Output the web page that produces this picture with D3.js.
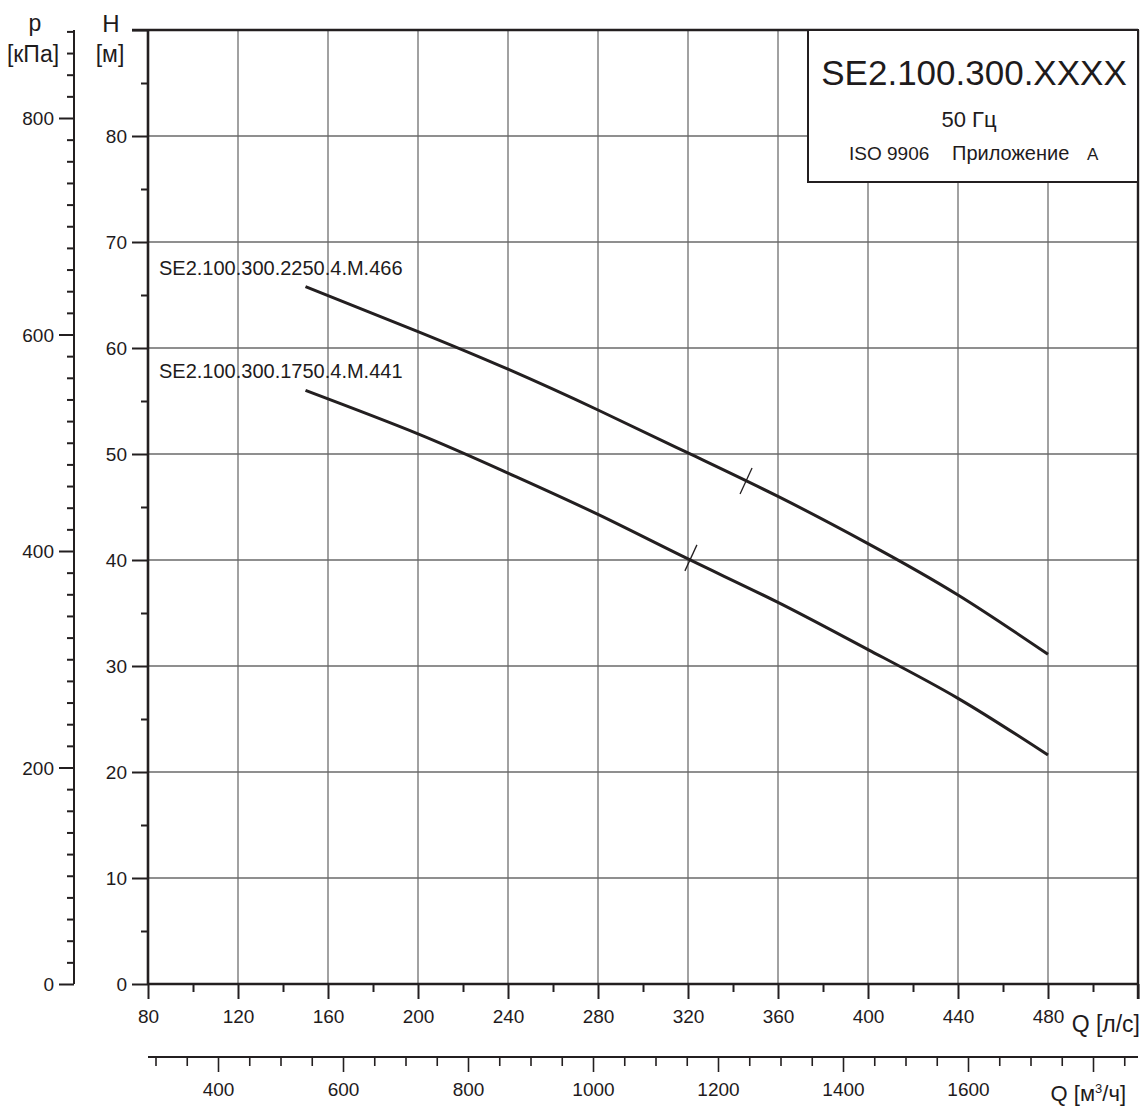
<!DOCTYPE html>
<html>
<head>
<meta charset="utf-8">
<script src="https://cdn.jsdelivr.net/npm/d3@7"></script>
<style>
  html, body { margin: 0; padding: 0; background: #fff; }
  text { font-family: "Liberation Sans", Arial, Helvetica, sans-serif; fill: #1e1b1c; }
</style>
</head>
<body>
<svg id="chart" width="1144" height="1106"></svg>
<script>
// ---- data ----
const flowLs = [150, 200, 240, 280, 320, 360, 400, 440, 480];           // Q [л/с]
const head2250 = [65.8, 61.55, 58.0, 54.15, 50.1, 46.0, 41.55, 36.7, 31.1]; // H [м]
const head1750 = [56.0, 51.9, 48.2, 44.3, 40.1, 36.0, 31.55, 26.95, 21.6];  // H [м]
const seriesNames = ["SE2.100.300.2250.4.M.466", "SE2.100.300.1750.4.M.441"];
const bepFlow = [345.8, 321.3];
const bepHead = [47.45, 40.2];
const flowTicksLs = [80, 120, 160, 200, 240, 280, 320, 360, 400, 440, 480];
const flowTicksM3h = [400, 600, 800, 1000, 1200, 1400, 1600];
const headTicks = [0, 10, 20, 30, 40, 50, 60, 70, 80];
const pressureTicks = [0, 200, 400, 600, 800];
const titleLines = ["SE2.100.300.XXXX", "50 Гц", "ISO 9906", "Приложение", "A"];

// ---- scales ----
const svg = d3.select("#chart");
const x = d3.scaleLinear().domain([80, 520]).range([148, 1138]);
const y = d3.scaleLinear().domain([0, 90]).range([984, 30]);
const p = d3.scaleLinear().domain([0, 800]).range([984, 118]);
const pTop = p.invert(30);
const qm = d3.scaleLinear().domain([80 * 3.6, 520 * 3.6]).range([148, 1138]);

const ink = "#231f20";
const fam = "Liberation Sans, Arial, sans-serif";

// ---- grid ----
const grid = svg.append("g");
grid.selectAll(".vg").data(d3.range(120, 520, 40)).join("line")
  .attr("x1", d => x(d)).attr("x2", d => x(d))
  .attr("y1", y(0)).attr("y2", y(90))
  .attr("stroke", "#8a8a8a").attr("stroke-width", 1.6);
grid.selectAll(".hg").data(d3.range(10, 90, 10)).join("line")
  .attr("x1", x(80)).attr("x2", x(520))
  .attr("y1", d => y(d)).attr("y2", d => y(d))
  .attr("stroke", "#6a6a6a").attr("stroke-width", 1.3);

// ---- H axis ----
const hAxis = svg.append("g").attr("transform", `translate(${x(80)},0)`)
  .call(d3.axisLeft(y).tickValues(headTicks.concat([90])).tickSize(16)
        .tickFormat(d => d === 90 ? "" : d).tickPadding(5));
hAxis.append("g").call(d3.axisLeft(y).tickValues(d3.range(5, 90, 10)).tickSize(7).tickFormat(""));
hAxis.selectAll(".domain").remove();
hAxis.selectAll("line").attr("stroke", ink).attr("stroke-width", 2);
hAxis.selectAll("text").attr("font-size", 19).attr("dy", "0.36em")
  .style("font-family", fam).attr("fill", "#1e1b1c");
svg.append("line").attr("x1", x(80)).attr("x2", x(80)).attr("y1", y(90)).attr("y2", y(0))
  .attr("stroke", ink).attr("stroke-width", 2.6);
svg.append("text").attr("x", 111).attr("y", 32).attr("text-anchor", "middle").attr("font-size", 24).text("H");
svg.append("text").attr("x", 110).attr("y", 62).attr("text-anchor", "middle").attr("font-size", 23).text("[м]");

// ---- p axis ----
const pAxis = svg.append("g").attr("transform", "translate(74,0)")
  .call(d3.axisLeft(p).tickValues(pressureTicks).tickSize(15).tickPadding(5));
pAxis.append("g").call(d3.axisLeft(p).tickValues(d3.range(20, pTop, 20).filter(v => v % 200 !== 0)).tickSize(7).tickFormat(""));
pAxis.selectAll(".domain").remove();
pAxis.selectAll("line").attr("stroke", ink).attr("stroke-width", 2);
pAxis.selectAll("text").attr("font-size", 19).attr("dy", "0.36em")
  .style("font-family", fam).attr("fill", "#1e1b1c");
svg.append("line").attr("x1", 74).attr("x2", 74).attr("y1", p(pTop)).attr("y2", p(0))
  .attr("stroke", ink).attr("stroke-width", 2);
svg.append("text").attr("x", 35).attr("y", 31).attr("text-anchor", "middle").attr("font-size", 23).text("p");
svg.append("text").attr("x", 33).attr("y", 62).attr("text-anchor", "middle").attr("font-size", 23).text("[кПа]");

// ---- Q [л/с] axis ----
const xAxis = svg.append("g").attr("transform", `translate(0,${y(0)})`)
  .call(d3.axisBottom(x).tickValues(flowTicksLs.concat([520])).tickSize(15).tickPadding(11)
        .tickFormat(d => d === 520 ? "" : d));
xAxis.append("g").call(d3.axisBottom(x).tickValues(d3.range(100, 520, 40)).tickSize(8).tickFormat(""));
xAxis.selectAll(".domain").remove();
xAxis.selectAll("line").attr("stroke", ink).attr("stroke-width", 2);
xAxis.selectAll("text").attr("font-size", 19)
  .style("font-family", fam).attr("fill", "#1e1b1c");
svg.append("line").attr("x1", x(80)).attr("x2", x(520)).attr("y1", y(0)).attr("y2", y(0))
  .attr("stroke", ink).attr("stroke-width", 2.6);
svg.append("text").attr("x", 1140).attr("y", 1032).attr("text-anchor", "end").attr("font-size", 23).text("Q [л/с]");

// ---- Q [м³/ч] axis ----
const qAxis = svg.append("g").attr("transform", "translate(0,1057)")
  .call(d3.axisBottom(qm).tickValues(flowTicksM3h.concat([1800])).tickSize(15).tickPadding(11)
        .tickFormat(d => d === 1800 ? "" : d));
qAxis.append("g").call(d3.axisBottom(qm).tickValues(d3.range(300, 1872, 50).filter(v => v % 200 !== 0)).tickSize(9).tickFormat(""));
qAxis.selectAll(".domain").remove();
qAxis.selectAll("line").attr("stroke", ink).attr("stroke-width", 1.6);
qAxis.selectAll("text").attr("font-size", 19)
  .style("font-family", fam).attr("fill", "#1e1b1c");
svg.append("line").attr("x1", qm(288)).attr("x2", qm(1872)).attr("y1", 1057).attr("y2", 1057)
  .attr("stroke", ink).attr("stroke-width", 2);
const qlab = svg.append("text").attr("x", 1126).attr("y", 1101).attr("text-anchor", "end").attr("font-size", 22);
qlab.append("tspan").text("Q [м");
qlab.append("tspan").attr("font-size", 13).attr("dy", -8).text("3");
qlab.append("tspan").attr("dy", 8).text("/ч]");

// ---- border top/right ----
svg.append("line").attr("x1", x(80) - 16).attr("x2", x(520)).attr("y1", y(90)).attr("y2", y(90))
  .attr("stroke", ink).attr("stroke-width", 2.4);
svg.append("line").attr("x1", x(520)).attr("x2", x(520)).attr("y1", y(90)).attr("y2", y(0) + 15)
  .attr("stroke", ink).attr("stroke-width", 2.4);

// ---- curves ----
const line = d3.line().x(d => x(d[0])).y(d => y(d[1])).curve(d3.curveNatural);
[head2250, head1750].forEach((hs, i) => {
  svg.append("path").datum(flowLs.map((q, j) => [q, hs[j]]))
    .attr("d", line).attr("fill", "none").attr("stroke", ink).attr("stroke-width", 3);
  svg.append("line")
    .attr("x1", x(bepFlow[i]) - 6).attr("y1", y(bepHead[i]) + 13)
    .attr("x2", x(bepFlow[i]) + 6).attr("y2", y(bepHead[i]) - 13)
    .attr("stroke", ink).attr("stroke-width", 1.3);
  svg.append("text").attr("x", 159).attr("y", y(hs[0]) - 12).attr("font-size", 20).text(seriesNames[i]);
});

// ---- title box ----
svg.append("rect").attr("x", 808).attr("y", y(90)).attr("width", x(520) - 808).attr("height", 152)
  .attr("fill", "#fff").attr("stroke", ink).attr("stroke-width", 2);
svg.append("text").attr("x", 974).attr("y", 85).attr("text-anchor", "middle").attr("font-size", 35).text(titleLines[0]);
svg.append("text").attr("x", 969).attr("y", 127).attr("text-anchor", "middle").attr("font-size", 22).text(titleLines[1]);
svg.append("text").attr("x", 849).attr("y", 160).attr("font-size", 19).text(titleLines[2]);
svg.append("text").attr("x", 952).attr("y", 160).attr("font-size", 20).text(titleLines[3]);
svg.append("text").attr("x", 1087).attr("y", 160).attr("font-size", 17).text(titleLines[4]);
</script>
</body>
</html>
